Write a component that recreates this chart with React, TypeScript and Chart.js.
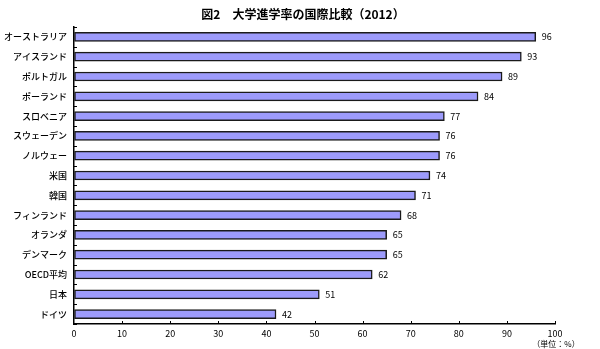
import React, { useEffect, useRef } from "react";
import { Chart, registerables } from "chart.js";

Chart.register(...registerables);

const categories = ["オーストラリア", "アイスランド", "ポルトガル", "ポーランド", "スロベニア", "スウェーデン", "ノルウェー", "米国", "韓国", "フィンランド", "オランダ", "デンマーク", "OECD平均", "日本", "ドイツ"];
const values = [96, 93, 89, 84, 77, 76, 76, 74, 71, 68, 65, 65, 62, 51, 42];
const titleText = "図2　大学進学率の国際比較（2012）";
const unitText = "（単位：%）";

const FONT = "'Noto Sans CJK JP', 'Noto Sans', sans-serif";

const overlay = {
  id: "overlay",
  afterDraw(chart: any) {
    const ctx = chart.ctx;
    const { left, top, bottom } = chart.chartArea;
    const x = chart.scales.x;
    ctx.save();
    // title
    ctx.fillStyle = "#000";
    ctx.font = `bold 12px ${FONT}`;
    ctx.textAlign = "center";
    ctx.textBaseline = "middle";
    ctx.fillText(titleText, 303, 14);
    // inward ticks
    ctx.strokeStyle = "#000";
    ctx.lineWidth = 1;
    ctx.beginPath();
    for (let i = 0; i <= categories.length; i++) {
      const yy = Math.round(top + ((bottom - top) * i) / categories.length) + 0.5;
      ctx.moveTo(left, yy);
      ctx.lineTo(left + 3, yy);
    }
    for (let v = 10; v <= 100; v += 10) {
      const xx = Math.round(x.getPixelForValue(v)) + 0.5;
      ctx.moveTo(xx, bottom);
      ctx.lineTo(xx, bottom - 3);
    }
    ctx.stroke();
    // data labels
    ctx.font = `9px ${FONT}`;
    ctx.textAlign = "left";
    ctx.textBaseline = "middle";
    const meta = chart.getDatasetMeta(0);
    meta.data.forEach((el: any, i: number) => {
      ctx.fillText(String(values[i]), el.x + 6, el.y);
    });
    // unit
    ctx.font = `8px ${FONT}`;
    ctx.textAlign = "center";
    ctx.fillText(unitText, x.getPixelForValue(100) + 1, 344);
    ctx.restore();
  },
};

export default function App() {
  const ref = useRef<HTMLCanvasElement>(null);
  useEffect(() => {
    const chart = new Chart(ref.current!, {
      type: "bar",
      data: {
        labels: categories,
        datasets: [
          {
            data: values,
            backgroundColor: "#9d9bfb",
            borderColor: "#1a1a1a",
            borderWidth: 1.5,
            borderSkipped: false,
            barThickness: 9,
          },
        ],
      },
      options: {
        indexAxis: "y",
        animation: false,
        responsive: false,
        maintainAspectRatio: false,
        layout: { padding: { top: 27, right: 45, bottom: 0, left: 0 } },
        plugins: { legend: { display: false }, title: { display: false }, tooltip: { enabled: false } },
        scales: {
          x: {
            min: 0,
            max: 100,
            ticks: { stepSize: 10, color: "#000", font: { size: 9, family: FONT }, padding: 4 },
            grid: { display: true, drawOnChartArea: false, drawTicks: false },
            border: { display: true, color: "#000", width: 1.5 },
            afterFit(s: any) { s.height = 25; },
          },
          y: {
            ticks: { color: "#000", font: { size: 9, family: FONT, weight: "500" }, padding: 7 },
            grid: { display: true, drawOnChartArea: false, drawTicks: false },
            border: { display: true, color: "#000", width: 1.5 },
            afterFit(s: any) { s.width = 74; },
          },
        },
      },
      plugins: [overlay],
    });
    return () => chart.destroy();
  }, []);
  return (
    <div style={{ position: "fixed", left: 0, top: 0, width: 600, height: 349, background: "#fff" }}>
      <canvas ref={ref} width={600} height={349} style={{ width: 600, height: 349 }} />
    </div>
  );
}
